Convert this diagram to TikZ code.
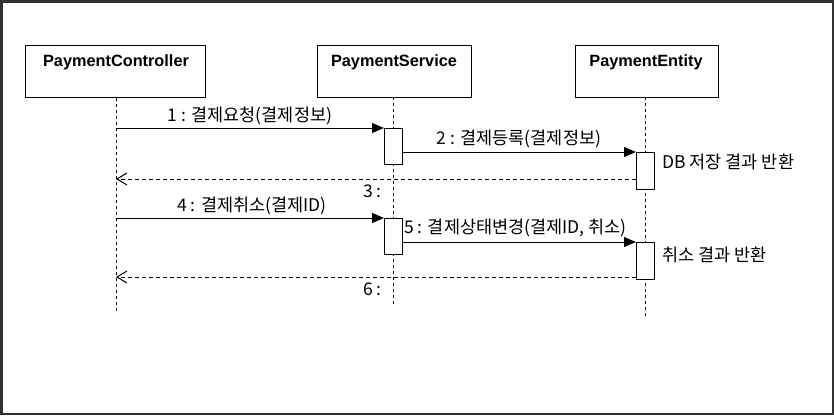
\documentclass[tikz,border=0pt]{standalone}
\usepackage{fontspec}
\setmainfont{Liberation Sans}
\newfontfamily\kr{Noto Sans CJK KR}
\usetikzlibrary{arrows.meta}
\begin{document}
\begin{tikzpicture}[x=1pt,y=-1pt,
  actor/.style={draw=black,line width=1pt,fill=white,minimum width=#1,minimum height=52pt,anchor=north west,inner sep=0pt},
  title/.style={font=\fontsize{16.3}{18}\selectfont\bfseries,anchor=center},
  lifeline/.style={draw=black,line width=1pt,dash pattern=on 3pt off 3pt},
  act/.style={draw=black,line width=1pt,fill=white},
  msg/.style={draw=black,line width=1pt,-{Triangle[length=12pt,width=10pt]}},
  ret/.style={draw=black,line width=1pt,dash pattern=on 4pt off 3pt,-{Straight Barb[length=10pt,width=12pt,line width=1pt]}},
  lbl/.style={font=\kr\fontsize{17.5}{19}\selectfont,inner sep=1pt},
]
\useasboundingbox (0,0) rectangle (834,415);
\draw[line width=2.5pt,draw=black!80] (1.25,1.25) rectangle (832.75,413.75);

% actors
\node[actor=180pt] (pc) at (25,45) {};
\node[actor=154pt] (ps) at (317,45) {};
\node[actor=143pt] (pe) at (575,45) {};
\node[title] (tpc) at (116,62) {PaymentController};
\node[title] (tps) at (394,62) {PaymentService};
\node[title] (tpe) at (646,62) {PaymentEntity};

% lifeline ends
\coordinate (pcend) at (116,312);
\coordinate (psend) at (393,305);
\coordinate (peend) at (645,316);
\draw[lifeline] (pc.south -| pcend) -- (pcend);
\draw[lifeline] (393,97) -- (psend);
\draw[lifeline] (645,97) -- (peend);

% activations
\node[act,minimum width=18pt,minimum height=36pt,inner sep=0pt,anchor=north west] (a1) at (384,128) {};
\node[act,minimum width=18pt,minimum height=37pt,inner sep=0pt,anchor=north west] (b1) at (636,152) {};
\node[act,minimum width=18pt,minimum height=36pt,inner sep=0pt,anchor=north west] (a2) at (384,218) {};
\node[act,minimum width=18pt,minimum height=37pt,inner sep=0pt,anchor=north west] (b2) at (636,242) {};

% coordinates on controller lifeline
\coordinate (c1) at (116,128);
\coordinate (c3) at (116,179);
\coordinate (c4) at (116,218);
\coordinate (c6) at (116,277);

% messages
\draw[msg] (c1) -- (a1.north west);
\node[lbl] (l1) at (250,116) {1 : 결제요청(결제정보)};
\draw[msg] (a1.east |- b1.north) -- (b1.north west);
\node[lbl] (l2) at (519,139) {2 : 결제등록(결제정보)};
\draw[ret] (b1.west |- c3) -- (c3);
\node[lbl,anchor=east] (l3) at (383,191) {3 :};
\draw[msg] (c4) -- (a2.north west);
\node[lbl] (l4) at (252,206) {4 : 결제취소(결제ID)};
\draw[msg] (a2.east |- b2.north) -- (b2.north west);
\node[lbl,anchor=west] (l5) at (403,228) {5 : 결제상태변경(결제ID, 취소)};
\draw[ret] (b2.west |- c6) -- (c6);
\node[lbl,anchor=east] (l6) at (383,289) {6 :};

\node[lbl,anchor=west] (n1) at (661,162) {DB 저장 결과 반환};
\node[lbl,anchor=west] (n2) at (661,255) {취소 결과 반환};
\end{tikzpicture}
\end{document}
